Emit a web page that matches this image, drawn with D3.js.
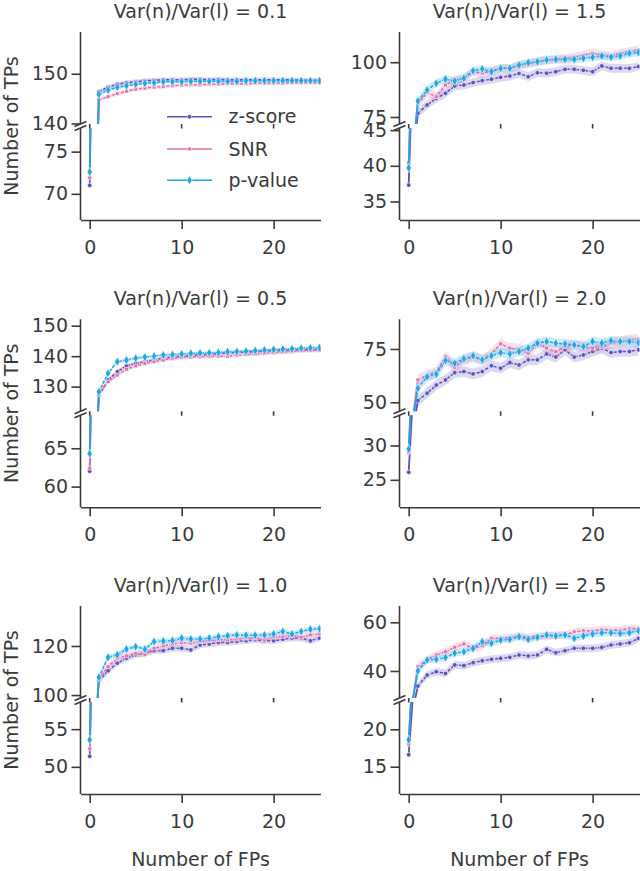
<!DOCTYPE html>
<html><head><meta charset="utf-8">
<script src="https://cdn.jsdelivr.net/npm/d3@7"></script>
<style>body{margin:0;background:#fff}</style>
</head><body><svg id="c" width="640" height="871"></svg>
<script>
// ---------- data ----------
const seriesNames = ["z-score", "SNR", "p-value"];
const fps = d3.range(0, 26); // Number of FPs: 0..25
const panelTitles = ["Var(n)/Var(l) = 0.1", "Var(n)/Var(l) = 1.5", "Var(n)/Var(l) = 0.5",
                     "Var(n)/Var(l) = 2.0", "Var(n)/Var(l) = 1.0", "Var(n)/Var(l) = 2.5"];

// ratio 0.1
const z_01 = [71.0,146.4,147.3,147.9,148.2,148.4,148.6,148.7,148.8,148.8,148.8,148.9,148.9,148.8,148.9,148.8,148.8,148.8,148.8,148.8,148.8,148.8,148.8,148.7,148.7,148.7];
const snr_01 = [71.9,144.8,145.4,146.0,146.5,146.9,147.1,147.3,147.4,147.6,147.7,147.8,147.8,147.9,147.9,148.0,148.0,148.0,148.1,148.1,148.1,148.1,148.2,148.2,148.2,148.2];
const p_01 = [72.6,145.9,146.7,147.3,147.6,147.9,148.1,148.2,148.4,148.4,148.4,148.5,148.5,148.5,148.5,148.5,148.5,148.6,148.6,148.6,148.6,148.6,148.6,148.6,148.6,148.6];
// ratio 1.5
const z_15 = [37.3,76.7,80.5,83.5,85.8,89.2,89.6,90.7,91.6,92.2,93.1,93.7,94.9,93.4,95.2,95.0,95.7,96.8,96.8,96.3,95.7,98.3,97.2,97.2,97.2,98.0];
const snr_15 = [40.4,80.9,86.1,84.3,89.6,91.9,92.7,95.7,95.0,96.0,97.2,97.2,98.7,99.2,100.2,101.0,101.3,101.8,102.3,103.3,104.1,103.3,102.9,104.1,104.8,105.6];
const p_15 = [39.7,82.3,87.3,90.4,92.3,91.4,92.7,96.1,96.9,95.7,97.2,97.2,98.7,99.8,100.2,101.0,101.3,101.3,101.3,101.8,102.3,102.9,102.3,102.9,104.1,104.4];
// ratio 0.5
const z_05 = [62.0,127.2,132.2,134.9,136.8,137.6,138.2,138.8,139.3,139.7,140.0,140.2,140.4,140.6,140.8,141.1,141.2,141.3,141.5,141.6,141.8,141.9,142.0,142.1,142.2,142.2];
const snr_05 = [62.4,127.2,131.6,133.8,135.7,136.8,137.6,138.2,138.7,139.2,139.6,139.7,139.8,139.9,140.0,140.0,140.3,140.5,140.7,140.9,141.1,141.3,141.5,141.7,141.8,141.9];
const p_05 = [64.3,128.3,134.4,138.2,138.7,139.3,139.7,140.0,140.4,140.5,140.7,140.9,141.0,141.1,141.2,141.4,141.5,141.6,141.8,142.0,142.2,142.3,142.4,142.6,142.7,142.8];
// ratio 2.0
const z_20 = [26.1,50.8,54.3,58.1,60.5,63.9,64.4,63.3,64.4,67.1,66.0,68.6,67.5,69.9,69.9,72.7,71.2,74.6,71.2,72.2,73.8,75.4,73.3,73.8,73.8,74.6];
const snr_20 = [29.0,60.5,62.8,64.0,71.4,66.4,69.9,71.2,69.9,72.7,77.4,75.4,74.9,73.0,77.7,75.4,73.8,76.1,76.9,76.1,75.4,76.1,77.7,78.5,79.3,79.6];
const p_20 = [29.5,56.6,62.0,63.2,69.6,68.3,70.4,71.8,69.9,71.8,73.3,72.7,73.8,75.4,77.7,78.5,77.7,77.4,76.9,76.1,78.5,77.7,78.9,78.5,78.5,78.0];
// ratio 1.0
const z_10 = [51.4,105.9,109.9,113.0,115.0,116.4,117.0,118.1,118.1,119.1,119.1,118.4,120.4,120.8,121.4,121.4,121.8,122.1,122.5,122.1,122.1,122.7,123.2,123.2,122.1,123.2];
const snr_10 = [52.4,106.6,111.6,115.0,116.0,117.0,116.6,119.1,120.0,120.8,121.4,121.1,121.8,122.2,122.5,122.5,122.8,123.2,123.2,122.5,123.6,123.9,124.1,123.6,124.5,124.9];
const p_10 = [53.6,107.2,115.4,116.4,118.7,119.7,118.7,121.8,122.0,122.2,123.2,122.8,122.8,123.2,123.8,124.2,124.5,124.4,124.4,124.5,124.9,125.9,124.9,125.9,126.8,127.0];
// ratio 2.5
const z_25 = [16.6,33.8,38.3,39.7,39.0,42.5,42.2,43.4,44.2,44.8,45.2,45.6,46.6,46.2,46.6,48.9,47.5,48.3,49.3,49.3,49.3,49.7,50.7,51.1,51.6,53.4];
const snr_25 = [18.0,41.8,44.5,46.6,47.9,49.7,51.1,49.3,50.3,53.4,53.4,53.8,54.4,53.8,54.4,54.1,54.8,54.8,56.1,56.5,56.5,57.1,56.8,56.8,57.5,57.5];
const p_25 = [18.6,40.0,44.5,44.8,45.5,47.3,47.9,49.3,52.0,51.4,52.7,53.0,54.1,53.0,53.8,54.8,54.4,54.8,53.4,54.4,55.2,55.7,55.7,55.4,55.7,56.5];

// confidence band half-widths (z-score, SNR, p-value) per panel; at FP=0 and beyond
const bandHalf0 = [[1.3,0.9,0.6],[1.8,1.2,1.0],[1.5,1.8,0.8],[1.5,1.2,1.0],[2.0,1.6,1.2],[1.2,1.0,0.8]];
const bandHalf  = [[0.45,0.4,0.3],[2.0,2.0,1.8],[0.6,0.6,0.5],[2.5,2.5,2.3],[1.3,1.3,1.1],[1.6,1.6,1.4]];

// tick labels
const topTicks = [[140,150],[75,100],[130,140,150],[50,75],[100,120],[40,60]];
const botTicks = [[70,75],[35,40,45],[60,65],[25,30],[50,55],[15,20]];
const xTicks = [0,10,20];

const panelData = [[z_01,snr_01,p_01],[z_15,snr_15,p_15],[z_05,snr_05,p_05],
                   [z_20,snr_20,p_20],[z_10,snr_10,p_10],[z_25,snr_25,p_25]];

// ---------- layout / style ----------
const colors = ["#5a4fbd", "#e06fa8", "#1ea6e6"];
const ink = "#3a3a3a";
const FONT = "DejaVu Sans";
const FS = 19;
const colLeft = [80.5, 399.5], axW = 240;
const rowTop = [32, 319.3, 606];
const topH = 92, gap = 4, botH = 92;
const xDomain = [-1, 25.1];
const topDomains = [[139.9,158.4],[71.8,113.8],[121.9,152.1],[45.8,88.9],[98.8,136.3],[28.9,66.7]];
const botDomains = [[66.9,77.8],[32.4,45.3],[57.3,69.3],[21.0,34.4],[46.4,58.6],[11.35,23.65]];
const symbols = [d3.symbol().type(d3.symbolCircle).size(16)(),
                 d3.symbol().type(d3.symbolSquare).size(14)(),
                 d3.symbol().type(d3.symbolDiamond).size(24)()];

const svg = d3.select("#c");
const defs = svg.append("defs");

function styleAxis(g) {
  g.attr("font-family", FONT).attr("font-size", FS).attr("color", ink);
  g.selectAll(".tick line").attr("stroke-width", 1.6);
  g.selectAll(".domain").attr("stroke-width", 1.6);
}

panelData.forEach((series, i) => {
  const col = i % 2, row = Math.floor(i / 2);
  const L = colLeft[col], T = rowTop[row];
  const x = d3.scaleLinear().domain(xDomain).range([L, L + axW]);
  const yTop = d3.scaleLinear().domain(topDomains[i]).range([T + topH, T]);
  const yBot = d3.scaleLinear().domain(botDomains[i]).range([T + topH + gap + botH, T + topH + gap]);
  const subs = [
    {y: yTop, y0: T, h: topH, id: "t" + i, ticks: topTicks[i], bottom: false},
    {y: yBot, y0: T + topH + gap, h: botH, id: "b" + i, ticks: botTicks[i], bottom: true}
  ];
  subs.forEach(sub => {
    defs.append("clipPath").attr("id", sub.id).append("rect")
      .attr("x", L).attr("y", sub.y0).attr("width", axW).attr("height", sub.h);
    const g = svg.append("g").attr("clip-path", `url(#${sub.id})`);
    series.forEach((vals, k) => {
      const data = fps.map((f, j) => ({f, v: vals[j], h: j === 0 ? bandHalf0[i][k] : bandHalf[i][k]}));
      const line = d3.line().x(d => x(d.f)).y(d => sub.y(d.v));
      g.append("path").datum(data)
        .attr("d", d3.area().x(d => x(d.f)).y0(d => sub.y(d.v - d.h)).y1(d => sub.y(d.v + d.h)))
        .attr("fill", colors[k]).attr("fill-opacity", 0.22);
      // jump segment (FP 0 -> 1) solid
      g.append("path").datum(data.slice(0, 2)).attr("d", line)
        .attr("fill", "none").attr("stroke", colors[k]).attr("stroke-width", 1.8);
      // rest of curve
      g.append("path").datum(data.slice(1)).attr("d", line)
        .attr("fill", "none").attr("stroke", colors[k]).attr("stroke-width", 1.5)
        .attr("stroke-dasharray", "3.2,1.4");
      g.selectAll(null).data(data).join("path")
        .attr("transform", d => `translate(${x(d.f)},${sub.y(d.v)})`)
        .attr("d", symbols[k]).attr("fill", colors[k])
        .attr("stroke", "#fff").attr("stroke-width", 0.6);
    });
    // y axis
    const ya = svg.append("g").attr("transform", `translate(${L},0)`)
      .call(d3.axisLeft(sub.y).tickValues(sub.ticks).tickSize(9).tickPadding(3.5));
    ya.select(".domain").remove();
    styleAxis(ya);
    svg.append("line").attr("x1", L).attr("x2", L).attr("y1", sub.y0).attr("y2", sub.y0 + sub.h)
      .attr("stroke", ink).attr("stroke-width", 1.6);
    if (sub.bottom) {
      const xa = svg.append("g").attr("transform", `translate(0,${sub.y0 + sub.h})`)
        .call(d3.axisBottom(x).tickValues(xTicks).tickSize(9).tickSizeOuter(0).tickPadding(11.5));
      styleAxis(xa);
    } else {
      svg.append("g").selectAll("line").data(xTicks).join("line")
        .attr("x1", d => x(d)).attr("x2", d => x(d))
        .attr("y1", sub.y0 + sub.h).attr("y2", sub.y0 + sub.h + 4.5)
        .attr("stroke", ink).attr("stroke-width", 1.6);
    }
  });
  // break marks
  [T + topH, T + topH + gap].forEach(yy => {
    svg.append("line").attr("x1", L - 6).attr("y1", yy + 2.5).attr("x2", L + 6).attr("y2", yy - 2.5)
      .attr("stroke", ink).attr("stroke-width", 1.6);
  });
  // title
  svg.append("text").attr("x", L + axW / 2).attr("y", T - 14.5)
    .attr("text-anchor", "middle").attr("font-family", FONT).attr("font-size", FS)
    .attr("fill", ink).text(panelTitles[i]);
  // y label
  if (col === 0) {
    svg.append("text").attr("transform", `translate(17.5,${T + topH + gap / 2}) rotate(-90)`)
      .attr("text-anchor", "middle").attr("font-family", FONT).attr("font-size", FS)
      .attr("fill", ink).text("Number of TPs");
  }
  if (row === 2) {
    svg.append("text").attr("x", L + axW / 2).attr("y", 866)
      .attr("text-anchor", "middle").attr("font-family", FONT).attr("font-size", FS)
      .attr("fill", ink).text("Number of FPs");
  }
});

// legend (panel 1)
const legY = [116.7, 149, 180.3];
seriesNames.forEach((name, k) => {
  const lg = svg.append("g");
  lg.append("line").attr("x1", 167).attr("x2", 212).attr("y1", legY[k]).attr("y2", legY[k])
    .attr("stroke", colors[k]).attr("stroke-width", 1.6);
  lg.append("path").attr("transform", `translate(189.5,${legY[k]})`).attr("d", symbols[k])
    .attr("fill", colors[k]).attr("stroke", "#fff").attr("stroke-width", 0.6);
  lg.append("text").attr("x", 228.5).attr("y", legY[k]).attr("dy", "0.35em")
    .attr("font-family", FONT).attr("font-size", FS).attr("fill", ink).text(name);
});
</script></body></html>
